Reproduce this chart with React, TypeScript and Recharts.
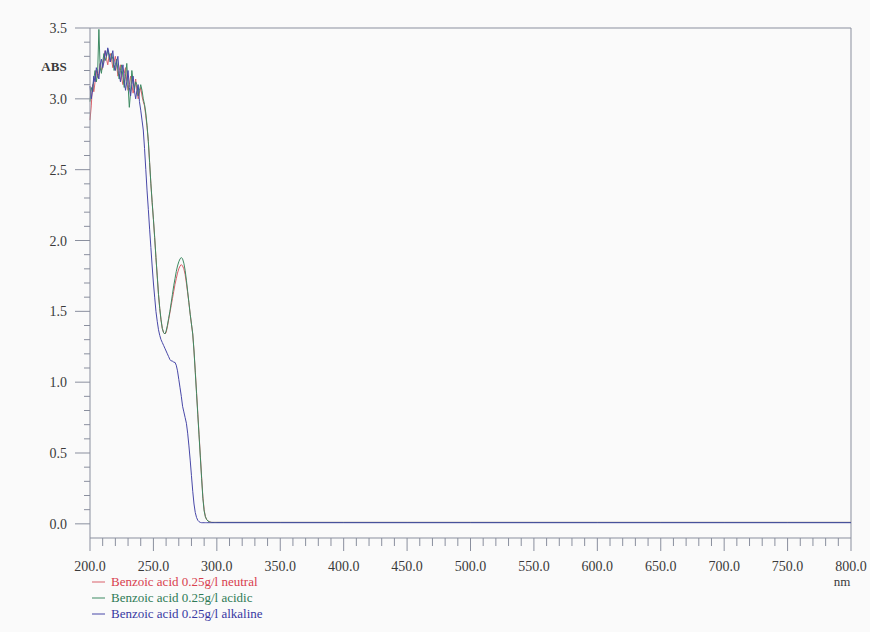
import React from 'react';
import { LineChart, Line, XAxis, YAxis, ReferenceLine } from 'recharts';

const wavelengths = [
  200, 201, 202, 203, 204, 205, 206, 207, 208, 209,
  210, 211, 212, 213, 214, 215, 216, 217, 218, 219,
  220, 221, 222, 223, 224, 225, 226, 227, 228, 229,
  230, 231, 232, 233, 234, 235, 236, 237, 238, 239,
  240, 241, 242, 243, 244, 245, 246, 247, 248, 249,
  250, 251, 252, 253, 254, 255, 256, 257, 258, 259,
  260, 261, 262, 263, 264, 265, 266, 267, 268, 269,
  270, 271, 272, 273, 274, 275, 276, 277, 278, 279,
  280, 281, 282, 283, 284, 285, 286, 287, 288, 289,
  290, 291, 292, 293, 294, 295, 296, 297, 298, 299,
  300, 350, 400, 450, 500, 550, 600, 650, 700, 750, 800,
];

const neutral = [
  2.85, 2.95, 3.1, 3.05, 3.12, 3.2, 3.15, 3.18, 3.25, 3.2,
  3.22, 3.3, 3.34, 3.28, 3.24, 3.3, 3.32, 3.28, 3.22, 3.26,
  3.3, 3.24, 3.16, 3.2, 3.24, 3.14, 3.1, 3.18, 3.22, 3.12,
  3.06, 3.1, 3.16, 3.1, 3.04, 3.08, 3.14, 3.06, 3.0, 3.04,
  3.08, 3.02, 2.98, 2.95, 2.88, 2.8, 2.7, 2.55, 2.4, 2.27,
  2.15, 2.02, 1.88, 1.75, 1.62, 1.52, 1.44, 1.38, 1.35, 1.34,
  1.35, 1.39, 1.44, 1.49, 1.54, 1.59, 1.64, 1.69, 1.73, 1.77,
  1.8, 1.82, 1.83, 1.82, 1.8, 1.76, 1.7, 1.63, 1.56, 1.48,
  1.41, 1.34, 1.22, 1.08, 0.93, 0.78, 0.63, 0.48, 0.33, 0.19,
  0.1, 0.05, 0.03, 0.02, 0.015, 0.012, 0.01, 0.01, 0.01, 0.01,
  0.01, 0.01, 0.01, 0.01, 0.01, 0.01, 0.01, 0.01, 0.01, 0.01, 0.01,
];

const acidic = [
  2.98, 3.08, 3.05, 3.14, 3.2, 3.12, 3.18, 3.49, 3.22, 3.18,
  3.26, 3.32, 3.27, 3.3, 3.35, 3.3, 3.26, 3.32, 3.28, 3.2,
  3.24, 3.28, 3.2, 3.14, 3.2, 3.24, 3.15, 3.08, 3.16, 3.25,
  3.1, 2.94, 3.05, 3.2, 3.12, 3.06, 3.12, 3.1, 3.02, 3.06,
  3.1, 3.06, 3.0, 2.96, 2.9, 2.81, 2.7, 2.55, 2.4, 2.27,
  2.15, 2.02, 1.88, 1.75, 1.62, 1.52, 1.44, 1.38, 1.35, 1.34,
  1.36, 1.4, 1.45, 1.5, 1.56, 1.62, 1.68, 1.73, 1.78, 1.82,
  1.85, 1.87, 1.88, 1.87, 1.84, 1.79, 1.72, 1.64, 1.56, 1.48,
  1.41, 1.34, 1.22, 1.07, 0.92, 0.77, 0.62, 0.47, 0.32, 0.18,
  0.09, 0.05, 0.03, 0.02, 0.015, 0.012, 0.01, 0.01, 0.01, 0.01,
  0.01, 0.01, 0.01, 0.01, 0.01, 0.01, 0.01, 0.01, 0.01, 0.01, 0.01,
];

const alkaline = [
  3.09, 3.0, 3.06, 3.16, 3.12, 3.22, 3.18, 3.14, 3.24, 3.28,
  3.22, 3.26, 3.34, 3.3, 3.36, 3.32, 3.26, 3.3, 3.34, 3.24,
  3.2, 3.26, 3.3, 3.18, 3.12, 3.2, 3.24, 3.14, 3.06, 3.12,
  3.2, 3.08, 3.02, 3.1, 3.16, 3.06, 3.0, 3.06, 3.1, 2.98,
  2.92, 2.85, 2.78, 2.65, 2.5, 2.35, 2.22, 2.08, 1.95, 1.82,
  1.7, 1.6, 1.5, 1.43, 1.37, 1.33, 1.3, 1.28, 1.26, 1.24,
  1.22, 1.2, 1.18, 1.16, 1.15, 1.15, 1.14, 1.14, 1.12, 1.08,
  1.02, 0.96, 0.9, 0.83, 0.79, 0.75, 0.71, 0.64, 0.55, 0.45,
  0.34, 0.23, 0.14, 0.08, 0.045, 0.025, 0.015, 0.01, 0.008, 0.008,
  0.008, 0.008, 0.008, 0.008, 0.008, 0.008, 0.008, 0.008, 0.008, 0.008,
  0.008, 0.008, 0.008, 0.008, 0.008, 0.008, 0.008, 0.008, 0.008, 0.008, 0.008,
];

const xTicks = [
  200, 210, 220, 230, 240, 250, 260, 270, 280, 290,
  300, 310, 320, 330, 340, 350, 360, 370, 380, 390,
  400, 410, 420, 430, 440, 450, 460, 470, 480, 490,
  500, 510, 520, 530, 540, 550, 560, 570, 580, 590,
  600, 610, 620, 630, 640, 650, 660, 670, 680, 690,
  700, 710, 720, 730, 740, 750, 760, 770, 780, 790, 800,
];

const yTicks = [
  0, 0.1, 0.2, 0.3, 0.4, 0.5, 0.6, 0.7, 0.8, 0.9,
  1.0, 1.1, 1.2, 1.3, 1.4, 1.5, 1.6, 1.7, 1.8, 1.9,
  2.0, 2.1, 2.2, 2.3, 2.4, 2.5, 2.6, 2.7, 2.8, 2.9,
  3.0, 3.1, 3.2, 3.3, 3.4, 3.5,
];

const seriesNames = [
  'Benzoic acid 0.25g/l neutral',
  'Benzoic acid 0.25g/l acidic',
  'Benzoic acid 0.25g/l alkaline',
];

const rows = wavelengths.map((nm, i) => ({
  nm,
  neutral: neutral[i],
  acidic: acidic[i],
  alkaline: alkaline[i],
}));

const AXIS = '#8a8f9e';
const TEXT = '#3a3a3a';
const FONT = "'Liberation Serif', 'Times New Roman', 'DejaVu Serif', serif";
const LINE_COLORS = ['#d9606a', '#3d8a62', '#4848a8'];
const TEXT_COLORS = ['#d8404e', '#2f7a56', '#3838a2'];
const textStyle = { fontFamily: FONT };

const XTick = (props: any) => {
  const { x, y, payload } = props;
  const v = payload.value as number;
  const major = v % 50 === 0;
  return (
    <g>
      <line x1={x} x2={x} y1={y} y2={y + (major ? 13 : 8)} stroke={AXIS} strokeWidth={1} />
      {major && (
        <text x={x} y={y + 33} textAnchor="middle" fill={TEXT} fontSize={14} style={textStyle}>
          {v.toFixed(1)}
        </text>
      )}
    </g>
  );
};

const YTick = (props: any) => {
  const { x, y, payload } = props;
  const v = payload.value as number;
  const major = Math.abs(v * 2 - Math.round(v * 2)) < 1e-6;
  return (
    <g>
      <line x1={x - (major ? 15 : 6)} x2={x} y1={y} y2={y} stroke={AXIS} strokeWidth={1} />
      {major && (
        <text x={x - 23} y={y + 5} textAnchor="end" fill={TEXT} fontSize={14} style={textStyle}>
          {v.toFixed(1)}
        </text>
      )}
    </g>
  );
};

export default function App() {
  return (
    <div
      style={{
        position: 'absolute',
        left: 0,
        top: 0,
        width: 870,
        height: 632,
        background: '#fafafa',
        fontFamily: FONT,
      }}
    >
      <LineChart
        width={870}
        height={632}
        data={rows}
        margin={{ top: 28, right: 19, bottom: 64, left: 30 }}
      >
        <XAxis
          type="number"
          dataKey="nm"
          domain={[200, 800]}
          ticks={xTicks}
          interval={0}
          tickSize={0}
          tickMargin={0}
          tickLine={false}
          tick={(p: any) => <XTick {...p} />}
          axisLine={{ stroke: AXIS }}
          height={30}
        />
        <YAxis
          type="number"
          domain={[-0.1, 3.5]}
          allowDataOverflow
          ticks={yTicks}
          interval={0}
          tickSize={0}
          tickMargin={0}
          tickLine={false}
          tick={(p: any) => <YTick {...p} />}
          axisLine={{ stroke: AXIS }}
          width={60}
        />
        <ReferenceLine y={3.5} stroke={AXIS} strokeWidth={1} />
        <ReferenceLine x={800} stroke={AXIS} strokeWidth={1} />
        <Line
          type="linear"
          dataKey="neutral"
          stroke={LINE_COLORS[0]}
          strokeWidth={1}
          dot={false}
          isAnimationActive={false}
        />
        <Line
          type="linear"
          dataKey="acidic"
          stroke={LINE_COLORS[1]}
          strokeWidth={1}
          dot={false}
          isAnimationActive={false}
        />
        <Line
          type="linear"
          dataKey="alkaline"
          stroke={LINE_COLORS[2]}
          strokeWidth={1}
          dot={false}
          isAnimationActive={false}
        />
      </LineChart>
      <svg
        width={870}
        height={632}
        style={{ position: 'absolute', left: 0, top: 0, pointerEvents: 'none' }}
      >
        <text x={54} y={71} textAnchor="middle" fill={TEXT} fontSize={13} fontWeight="bold" style={textStyle}>
          ABS
        </text>
        <text x={842} y={586} textAnchor="middle" fill={TEXT} fontSize={13} style={textStyle}>
          nm
        </text>
        {seriesNames.map((name, i) => (
          <g key={name}>
            <line x1={92} x2={105} y1={582 + i * 16} y2={582 + i * 16} stroke={LINE_COLORS[i]} strokeWidth={1} />
            <text x={111} y={586 + i * 16} fill={TEXT_COLORS[i]} fontSize={13} style={textStyle}>
              {name}
            </text>
          </g>
        ))}
      </svg>
    </div>
  );
}
